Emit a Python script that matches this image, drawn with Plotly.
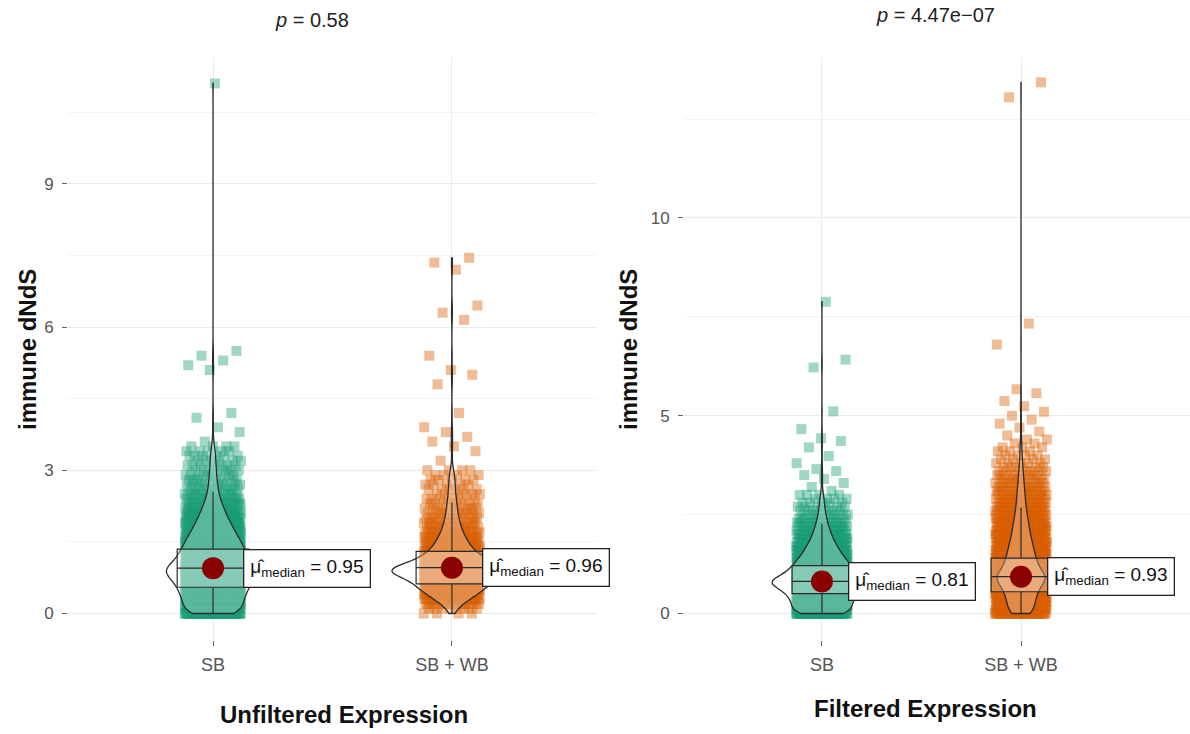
import numpy as np
import plotly.graph_objects as go

# ---------------------------------------------------------------- data
CATEGORIES = ["SB", "SB + WB"]

# dNdS values binned to 0.1; counts per bin for each group
BIN_VALUES = [0.0, 0.1, 0.2, 0.3, 0.4, 0.5, 0.6, 0.7, 0.8, 0.9,
              1.0, 1.1, 1.2, 1.3, 1.4, 1.5, 1.6, 1.7, 1.8, 1.9,
              2.0, 2.1, 2.2, 2.3, 2.4, 2.5, 2.6, 2.7, 2.8, 2.9,
              3.0, 3.1, 3.2, 3.3, 3.4, 3.5, 3.6, 3.7, 3.8, 3.9,
              4.0, 4.1, 4.2, 4.3, 4.4]

unfiltered_sb_counts = [80, 62, 65, 68, 72, 76, 82, 88, 98, 130,
                        92, 84, 78, 72, 67, 62, 56, 50, 44, 38,
                        33, 29, 24, 20, 16, 13, 11, 10, 9, 8,
                        7, 7, 6, 6, 5, 4, 0, 0, 0, 0,
                        0, 0, 0, 0, 0]
unfiltered_sb_sparse = [3.6, 3.8, 3.9, 4.1, 4.2, 5.1, 5.2, 5.3, 5.4, 5.5, 11.1]

unfiltered_sbwb_counts = [4, 8, 16, 30, 42, 52, 60, 68, 82, 135,
                          85, 60, 46, 38, 31, 26, 22, 18, 15, 13,
                          11, 10, 9, 8, 7, 6, 6, 5, 5, 4,
                          4, 0, 0, 0, 0, 0, 0, 0, 0, 0,
                          0, 0, 0, 0, 0]
unfiltered_sbwb_sparse = [3.2, 3.4, 3.5, 3.6, 3.7, 3.8, 3.9, 4.2, 4.8, 5.0,
                          5.1, 5.4, 6.15, 6.3, 6.45, 7.2, 7.35, 7.45]

filtered_sb_counts = [75, 60, 62, 64, 68, 74, 82, 100, 135, 90,
                      78, 70, 62, 55, 48, 42, 37, 32, 27, 23,
                      20, 17, 14, 12, 10, 8, 7, 6, 5, 4,
                      4, 0, 0, 0, 0, 0, 0, 0, 0, 0,
                      0, 0, 0, 0, 0]
filtered_sb_sparse = [3.1, 3.2, 3.3, 3.4, 3.5, 3.6, 3.65, 3.8, 3.98, 4.2,
                      4.36, 4.43, 4.66, 5.11, 6.22, 6.42, 7.88]

filtered_sbwb_counts = [50, 40, 42, 45, 48, 52, 57, 63, 72, 100,
                        72, 62, 56, 52, 48, 45, 42, 39, 36, 33,
                        30, 28, 26, 24, 22, 20, 18, 16, 15, 14,
                        13, 12, 11, 10, 9, 8, 7, 6, 5, 4,
                        4, 3, 3, 2, 2]
filtered_sbwb_sparse = [4.5, 4.6, 4.7, 4.8, 4.9, 5.0, 5.1, 5.24, 5.37, 5.57,
                        5.67, 6.8, 7.33, 13.05, 13.43]

# box summaries (q1, median, q3, lower / upper whisker ends)
unfiltered_q1 = [0.55, 0.62]
unfiltered_median = [0.95, 0.96]
unfiltered_q3 = [1.35, 1.30]
unfiltered_lower = [0.0, 0.0]
unfiltered_upper = [2.55, 2.32]

filtered_q1 = [0.50, 0.55]
filtered_median = [0.81, 0.93]
filtered_q3 = [1.21, 1.40]
filtered_lower = [0.0, 0.0]
filtered_upper = [2.27, 2.68]

p_values = ["0.58", "4.47e\u221207"]
panel_titles = ["Unfiltered Expression", "Filtered Expression"]

# ---------------------------------------------------------------- styling
W, H = 1190, 734
FONT = "Liberation Sans, Arial, sans-serif"
POINT_RGBA = ["rgba(27,158,119,0.42)", "rgba(217,95,2,0.42)"]
LINE = "#2b2b2b"
SHADE = "rgba(255,255,255,0.28)"


def expand(counts, sparse):
    vals = np.repeat(np.array(BIN_VALUES), np.array(counts))
    return np.concatenate([vals, np.array(sparse)])


def spread(n, half):
    # evenly scattered horizontal offsets (golden-ratio sequence)
    k = np.arange(n)
    return ((k * 0.6180339887) % 1.0 * 2.0 - 1.0) * half


def px_x(p):
    return p / W


def px_y(p):
    return 1.0 - p / H


Y_DOM = [px_y(640), px_y(57)]

panels = [
    dict(
        data=[expand(unfiltered_sb_counts, unfiltered_sb_sparse),
              expand(unfiltered_sbwb_counts, unfiltered_sbwb_sparse)],
        q1=unfiltered_q1, med=unfiltered_median, q3=unfiltered_q3,
        lo=unfiltered_lower, hi=unfiltered_upper,
        xdom=[px_x(68), px_x(596)], xrange=[-0.607, 1.603],
        yrange=[-0.555, 11.655], major=[0, 3, 6, 9], minor=[1.5, 4.5, 7.5, 10.5],
        jitter=0.118, violin_w=[0.39, 0.50], bw=[0.14, 0.12],
        base=("x", "y"), over=("x3", "y3"), label_dx=0.125,
        title_px=(312, 20), ytitle_px=(27, 350), xtitle_px=(344, 714),
    ),
    dict(
        data=[expand(filtered_sb_counts, filtered_sb_sparse),
              expand(filtered_sbwb_counts, filtered_sbwb_sparse)],
        q1=filtered_q1, med=filtered_median, q3=filtered_q3,
        lo=filtered_lower, hi=filtered_upper,
        xdom=[px_x(684), 1.0], xrange=[-0.693, 1.849],
        yrange=[-0.67, 14.07], major=[0, 5, 10], minor=[2.5, 7.5, 12.5],
        jitter=0.13, violin_w=[0.50, 0.24], bw=[0.13, 0.15],
        base=("x2", "y2"), over=("x4", "y4"), label_dx=0.13,
        title_px=(935, 15), ytitle_px=(628, 350), xtitle_px=(925, 708),
    ),
]

fig = go.Figure()
annotations = []
layout_axes = {}

for pi, P in enumerate(panels):
    bx, by = P["base"]
    ox, oy = P["over"]
    for gi in range(2):
        vals = P["data"][gi]
        # jittered raw observations (bottom layer)
        fig.add_trace(go.Scatter(
            x=gi + spread(len(vals), P["jitter"]), y=vals,
            mode="markers", xaxis=bx, yaxis=by,
            marker=dict(symbol="square", size=10, color=POINT_RGBA[gi],
                        line=dict(width=0)),
            showlegend=False, hoverinfo="skip"))
        # box summary
        fig.add_trace(go.Box(
            x=[gi], q1=[P["q1"][gi]], median=[P["med"][gi]], q3=[P["q3"][gi]],
            lowerfence=[P["lo"][gi]], upperfence=[P["hi"][gi]],
            width=0.3, whiskerwidth=0, boxpoints=False,
            line=dict(color=LINE, width=1.2), fillcolor=SHADE,
            xaxis=ox, yaxis=oy, showlegend=False, hoverinfo="skip"))
        # density outline
        fig.add_trace(go.Violin(
            y=vals, x0=gi, xaxis=ox, yaxis=oy, width=P["violin_w"][gi],
            bandwidth=P["bw"][gi], spanmode="hard", side="both",
            points=False, box_visible=False, meanline_visible=False,
            line=dict(color=LINE, width=1.3), fillcolor=SHADE,
            showlegend=False, hoverinfo="skip"))
        # median marker
        fig.add_trace(go.Scatter(
            x=[gi], y=[P["med"][gi]], mode="markers", xaxis=ox, yaxis=oy,
            marker=dict(size=22, color="#8B0000", line=dict(width=0)),
            showlegend=False, hoverinfo="skip"))
        # median label
        annotations.append(dict(
            x=gi + P["label_dx"], y=P["med"][gi], xref=bx, yref=by,
            xanchor="left", yanchor="middle", showarrow=False,
            text="\u03bc\u0302<sub>median</sub> = %.2f" % P["med"][gi],
            font=dict(family=FONT, size=19, color="#111111"),
            bgcolor="white", bordercolor="#222222", borderwidth=1.3,
            borderpad=6))

    # axes
    xname = "xaxis" if bx == "x" else "xaxis" + bx[1:]
    yname = "yaxis" if by == "y" else "yaxis" + by[1:]
    oxname = "xaxis" + ox[1:]
    oyname = "yaxis" + oy[1:]
    layout_axes[xname] = dict(
        domain=P["xdom"], range=P["xrange"], anchor=by,
        tickvals=[0, 1], ticktext=CATEGORIES, showgrid=True,
        gridcolor="#EBEBEB", gridwidth=1, zeroline=False, showline=False,
        ticks="outside", ticklen=5, tickcolor="#666666", ticklabelstandoff=3,
        tickfont=dict(family=FONT, size=18, color="#555555"))
    layout_axes[yname] = dict(
        domain=Y_DOM, range=P["yrange"], anchor=bx,
        tickvals=P["major"], showgrid=True, gridcolor="#EBEBEB", gridwidth=1,
        zeroline=False, showline=False, ticks="outside", ticklen=5,
        tickcolor="#666666", ticklabelstandoff=5,
        tickfont=dict(family=FONT, size=17, color="#555555"),
        minor=dict(tickvals=P["minor"], showgrid=True, gridcolor="#F3F3F3",
                   ticks=""))
    layout_axes[oxname] = dict(overlaying=bx, range=P["xrange"], anchor=oy,
                               visible=False, showgrid=False, zeroline=False)
    layout_axes[oyname] = dict(overlaying=by, range=P["yrange"], anchor=ox,
                               visible=False, showgrid=False, zeroline=False)

    tx, ty = P["title_px"]
    annotations.append(dict(
        x=px_x(tx), y=px_y(ty), xref="paper", yref="paper",
        xanchor="center", yanchor="middle", showarrow=False,
        text="<i>p</i> = " + p_values[pi],
        font=dict(family=FONT, size=20, color="#222222")))
    yx, yy = P["ytitle_px"]
    annotations.append(dict(
        x=px_x(yx), y=px_y(yy), xref="paper", yref="paper",
        xanchor="center", yanchor="middle", showarrow=False, textangle=-90,
        text="<b>immune dNdS</b>",
        font=dict(family=FONT, size=24, color="#111111")))
    xx, xy = P["xtitle_px"]
    annotations.append(dict(
        x=px_x(xx), y=px_y(xy), xref="paper", yref="paper",
        xanchor="center", yanchor="middle", showarrow=False,
        text="<b>" + panel_titles[pi] + "</b>",
        font=dict(family=FONT, size=24, color="#111111")))

fig.update_layout(
    width=W, height=H, margin=dict(l=0, r=0, t=0, b=0),
    paper_bgcolor="white", plot_bgcolor="white",
    showlegend=False, violinmode="overlay", boxmode="overlay",
    annotations=annotations, **layout_axes)

fig.write_html("out.html")
